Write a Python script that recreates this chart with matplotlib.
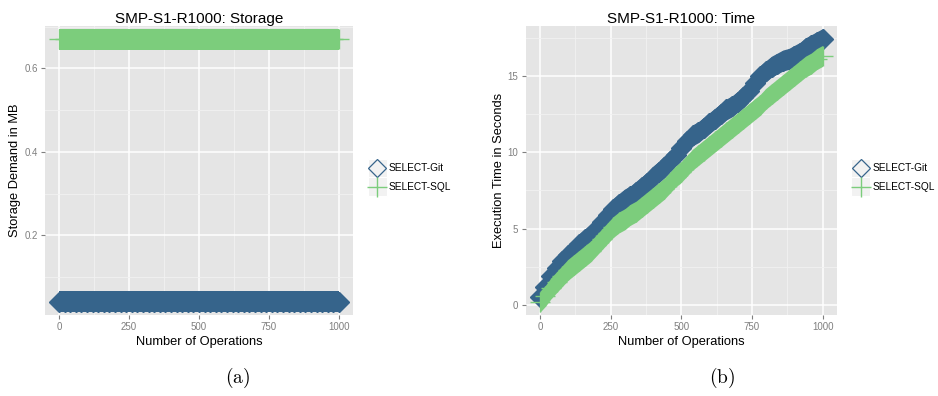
import numpy as np
import matplotlib.pyplot as plt
from matplotlib.patches import Rectangle
from matplotlib.lines import Line2D

plt.rcParams['font.family'] = ['Liberation Sans', 'DejaVu Sans']

# operations sampled every 20 steps
ops = list(range(0, 1001, 20))

git_storage_mb = [0.041] * len(ops)
sql_storage_mb = [0.670] * len(ops)

git_time_s = [0.5, 1.2, 1.9, 2.4, 2.9, 3.3, 3.6, 4.0, 4.3, 4.6,
              5.0, 5.4, 5.9, 6.3, 6.6, 6.9, 7.1, 7.4, 7.7, 8.0,
              8.4, 8.7, 9.0, 9.4, 9.8, 10.3, 10.7, 11.1, 11.3, 11.6,
              11.9, 12.2, 12.5, 12.8, 13.0, 13.3, 13.6, 14.0, 14.5, 15.0,
              15.3, 15.6, 15.8, 16.0, 16.1, 16.3, 16.5, 16.8, 17.0, 17.2,
              17.4]
sql_time_s = [0.2, 0.6, 1.1, 1.5, 1.9, 2.3, 2.6, 2.9, 3.2, 3.5,
              3.9, 4.3, 4.7, 5.1, 5.4, 5.6, 5.9, 6.1, 6.4, 6.7,
              7.0, 7.3, 7.6, 8.0, 8.4, 8.7, 9.1, 9.5, 9.8, 10.1,
              10.4, 10.7, 11.0, 11.3, 11.6, 11.9, 12.2, 12.5, 12.8, 13.1,
              13.5, 13.8, 14.1, 14.4, 14.7, 15.0, 15.3, 15.6, 15.8, 16.1,
              16.3]

series_names = ['SELECT-Git', 'SELECT-SQL']
xticks = [0, 250, 500, 750, 1000]

GIT_COL = '#36648B'   # steelblue4
SQL_COL = '#7CCD7C'   # palegreen3
W, H = 938, 396


def fig_xy(x, y):
    return x / W, 1 - y / H


def px_to_data(ax, px):
    y0, y1 = ax.get_ylim()
    return px * (y1 - y0) / ax.get_window_extent().height


def ggplot_limits(ax, x, ys):
    lo = min(min(y) for y in ys)
    hi = max(max(y) for y in ys)
    pad = 0.05 * (hi - lo)
    ax.set_ylim(lo - pad, hi + pad)
    xpad = 0.05 * (max(x) - min(x))
    ax.set_xlim(min(x) - xpad, max(x) + xpad)


def style_axes(ax, yticks, yminor, title, ylabel):
    ax.set_facecolor('#E5E5E5')
    for s in ax.spines.values():
        s.set_visible(False)
    ax.set_xticks(xticks)
    ax.set_xticks([125, 375, 625, 875], minor=True)
    ax.set_yticks(yticks)
    ax.set_yticks(yminor, minor=True)
    ax.grid(which='major', color='white', lw=1.1, zorder=0)
    ax.grid(which='minor', color='#F2F2F2', lw=0.6, zorder=0)
    ax.set_axisbelow(True)
    ax.tick_params(which='major', length=3, width=0.8, color='#7F7F7F',
                   labelcolor='#7F7F7F', labelsize=7, pad=2.3)
    ax.tick_params(which='minor', length=0)
    ax.set_title(title, fontsize=11, pad=2)
    ax.set_xlabel('Number of Operations', fontsize=9.3, labelpad=2.5)
    ax.set_ylabel(ylabel, fontsize=9.3, labelpad=2)


def draw_band(ax, x, y, color, marker, ms):
    half = px_to_data(ax, 10.5)
    y = np.asarray(y)
    ax.fill_between(x, y - half, y + half, color=color, lw=0, zorder=3)
    ax.plot(x, y, ls='none', marker=marker, ms=ms, mfc=color, mec=color,
            mew=1.0, zorder=3)


def draw_legend(fig, right_px):
    kx = right_px + 24
    tx = right_px + 36
    for i, (name, col) in enumerate(zip(series_names, [GIT_COL, SQL_COL])):
        cy = 168 + i * 18.5
        x0, y0 = fig_xy(kx - 9.5, cy + 9.5)
        fig.add_artist(Rectangle((x0, y0), 19 / W, 19 / H, transform=fig.transFigure,
                                 facecolor='#F2F2F2', edgecolor='white', lw=0.8))
        mx, my = fig_xy(kx, cy)
        if i == 0:
            fig.add_artist(Line2D([mx], [my], transform=fig.transFigure, marker='D',
                                  ms=9.6, mfc='none', mec=col, mew=0.9))
        else:
            fig.add_artist(Line2D([mx], [my], transform=fig.transFigure, marker='+',
                                  ms=13.7, mec=col, mew=1.0))
        fig.text(*fig_xy(tx, cy), name, fontsize=7.3, va='center', ha='left')


fig = plt.figure(figsize=(W / 100, H / 100), dpi=100)
ax1 = fig.add_axes([45 / W, 81 / H, 308 / W, 289 / H])
ax2 = fig.add_axes([525.7 / W, 81 / H, 311 / W, 289 / H])

# storage panel
ggplot_limits(ax1, ops, [git_storage_mb, sql_storage_mb])
style_axes(ax1, [0.2, 0.4, 0.6], [0.1, 0.3, 0.5, 0.7],
           'SMP-S1-R1000: Storage', 'Storage Demand in MB')
draw_band(ax1, ops, git_storage_mb, GIT_COL, 'D', 10.4)
draw_band(ax1, ops, sql_storage_mb, SQL_COL, '+', 14.4)

# time panel
ggplot_limits(ax2, ops, [git_time_s, sql_time_s])
style_axes(ax2, [0, 5, 10, 15], [2.5, 7.5, 12.5, 17.5],
           'SMP-S1-R1000: Time', 'Execution Time in Seconds')
draw_band(ax2, ops, git_time_s, GIT_COL, 'D', 10.4)
draw_band(ax2, ops, sql_time_s, SQL_COL, '+', 14.4)

draw_legend(fig, 353)
draw_legend(fig, 836.7)

fig.text(*fig_xy(238, 378), r'$\mathrm{(a)}$', math_fontfamily='cm',
         fontsize=14, ha='center', va='center')
fig.text(*fig_xy(722, 378), r'$\mathrm{(b)}$', math_fontfamily='cm',
         fontsize=14, ha='center', va='center')

fig.savefig('out.png', dpi=100)
